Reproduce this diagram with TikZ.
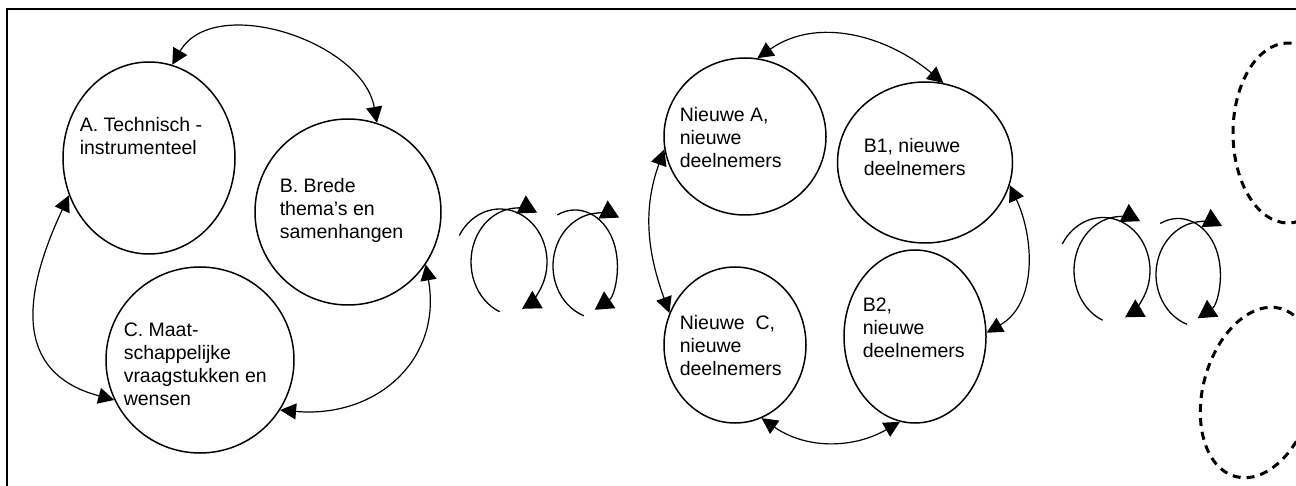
\documentclass[tikz,border=0pt]{standalone}
\usepackage{fontspec}
\setmainfont{Liberation Sans}
\usetikzlibrary{shapes.geometric,arrows.meta}

\begin{document}
\begin{tikzpicture}[x=0.5pt,y=0.5pt,line width=0.75pt,>={Triangle[length=8pt,width=8pt]}]
    \tikzstyle{ring}=[ellipse,draw,inner sep=0pt]
    \tikzstyle{ghost}=[ellipse,draw,line width=1.5pt,dash pattern=on 4pt off 3pt,inner sep=0pt]
    \tikzstyle{txt}=[anchor=north west,align=left,inner sep=0pt,font=\fontsize{9.75}{11.5}\selectfont]
    \tikzstyle{link}=[<->,line width=0.6pt]
    \tikzstyle{spin}=[-{Triangle[length=9pt,width=10pt]},line width=0.65pt]

    \useasboundingbox (0,0) rectangle (1296,-486);
    \clip (0,0) rectangle (1296,-486);

    % frame
    \draw[line width=1.2pt] (1300,-9) -- (7,-9) -- (7,-490);

    % First round: the three themes
    \node[ring,minimum width=86pt,minimum height=96pt] (A) at (149,-158) {};
    \node[ring,minimum width=93pt,minimum height=93pt] (B) at (348,-212) {};
    \node[ring,minimum width=94pt,minimum height=93pt] (C) at (200,-360) {};

    \node[txt] (A-text) at (79,-117) {A. Technisch -\\instrumenteel};
    \node[txt] (B-text) at (279,-178) {B. Brede\\thema’s en\\samenhangen};
    \node[txt] (C-text) at (123,-322) {C. Maat-\\schappelijke\\vraagstukken en\\wensen};

    \draw[link] (A.76) to[out=60,in=100] (B.72);
    \draw[link] (A.205) to[out=245,in=165,looseness=1.3] (C.205);
    \draw[link] (B.-34) to[out=-80,in=-5,looseness=1.2] (C.-32);

    % Second round: new groups
    \node[ring,minimum width=81pt,minimum height=78.5pt] (NA) at (745,-136.5) {};
    \node[ring,minimum width=87.5pt,minimum height=80.5pt] (B1) at (925,-162.5) {};
    \node[ring,minimum width=71pt,minimum height=78pt] (NC) at (735,-345) {};
    \node[ring,minimum width=71pt,minimum height=86.5pt] (B2) at (915,-336.5) {};

    \node[txt] (NA-text) at (679,-107) {Nieuwe A,\\nieuwe\\deelnemers};
    \node[txt] (B1-text) at (863,-138) {B1, nieuwe\\deelnemers};
    \node[txt] (NC-text) at (679,-315) {Nieuwe\ \ C,\\nieuwe\\deelnemers};
    \node[txt] (B2-text) at (862,-297) {B2,\\nieuwe\\deelnemers};

    \draw[link] (NA.81) to[out=35,in=140] (B1.77);
    \draw[link] (NA.189) to[out=250,in=110] (NC.154);
    \draw[link] (B1.-15) to[out=-65,in=30] (B2.3);
    \draw[link] (NC.-70) to[out=-35,in=-150] (B2.-100);

    % Next round, only hinted
    \node[ghost,minimum width=55pt,minimum height=90pt] (next-1) at (1288,-133) {};
    \node[ghost,minimum width=55pt,minimum height=87pt,rotate=-15] (next-2) at (1258,-392.5) {};

    % spinning arrows between the rounds
    \foreach \dx/\dy in {0/0, 603/-8.5} {
        \begin{scope}[shift={(\dx,\dy)}]
            \draw[spin] ([shift={(150:47 and 53)}]500,-262) arc[start angle=150,end angle=-62,x radius=47,y radius=53];
            \draw[spin] ([shift={(247:47 and 54)}]518,-262) arc[start angle=247,end angle=66,x radius=47,y radius=54];
            \draw[spin] ([shift={(115:42 and 53)}]575,-263) arc[start angle=115,end angle=-62,x radius=42,y radius=53];
            \draw[spin] ([shift={(250:47 and 53)}]600,-266) arc[start angle=250,end angle=66,x radius=47,y radius=53];
        \end{scope}
    }
\end{tikzpicture}
\end{document}
